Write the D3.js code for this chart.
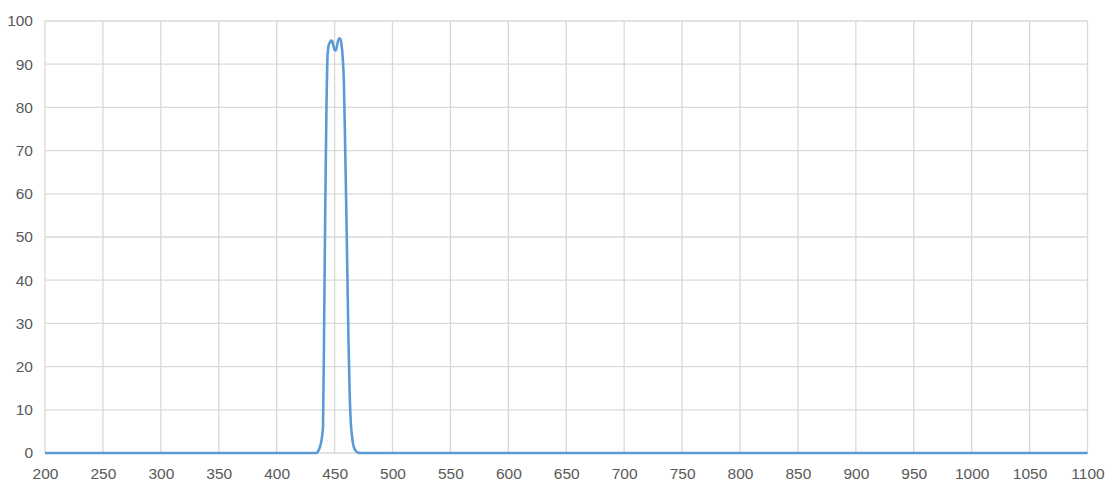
<!DOCTYPE html>
<html>
<head>
<meta charset="utf-8">
<script src="https://cdn.jsdelivr.net/npm/d3@7"></script>
<style>
  body { margin: 0; background: #fff; }
  .tick text { font-family: "Liberation Sans", Arial, sans-serif; font-size: 15.5px; fill: #595959; }
</style>
</head>
<body>
<div id="vis"></div>
<script>
const visWidth = 1111;
const visHeight = 494;

const margin = {
  top: 21,
  bottom: 41,
  left: 45,
  right: 23.5
};

const width = visWidth - margin.left - margin.right;
const height = visHeight - margin.top - margin.bottom;

// wavelength (nm)
const wavelength = [
  200, 250, 300, 350, 400, 420, 430, 434, 436, 438, 439, 440, 441, 442, 443, 444,
  445, 446, 447, 448, 449, 450, 451, 452, 453, 454, 455, 456, 457, 458, 459, 460,
  461, 462, 463, 464, 465, 466, 468, 470, 472, 480, 500, 550, 600, 650, 700, 750,
  800, 850, 900, 950, 1000, 1050, 1100
];

// transmission (%)
const transmission = [
  0, 0, 0, 0, 0, 0, 0, 0, 0.5, 2, 3.5, 6, 30, 58, 80, 92.5,
  94.5, 95, 95.5, 95.3, 94.2, 93.3, 93.2, 94.2, 95.4, 96, 95.8, 94.5, 91.5, 86, 73, 58,
  42, 26, 14, 7, 4, 2, 0.6, 0.1, 0, 0, 0, 0, 0, 0, 0, 0,
  0, 0, 0, 0, 0, 0, 0
];

const xTicks = d3.range(200, 1101, 50);
const yTicks = d3.range(0, 101, 10);

const svg = d3.select('#vis').append('svg')
    .attr('width', visWidth)
    .attr('height', visHeight)
  .append('g')
    .attr('transform', `translate(${margin.left}, ${margin.top})`);

const x = d3.scaleLinear()
    .domain([200, 1100])
    .range([0, width]);

const y = d3.scaleLinear()
    .domain([0, 100])
    .range([height, 0]);

// gridlines
svg.append('g')
    .selectAll('line')
    .data(yTicks)
    .join('line')
      .attr('x1', 0)
      .attr('x2', width)
      .attr('y1', d => y(d))
      .attr('y2', d => y(d))
      .attr('stroke', '#d9d9d9')
      .attr('stroke-width', 1.3);

svg.append('g')
    .selectAll('line')
    .data(xTicks)
    .join('line')
      .attr('x1', d => x(d))
      .attr('x2', d => x(d))
      .attr('y1', 0)
      .attr('y2', height)
      .attr('stroke', '#d9d9d9')
      .attr('stroke-width', 1.3);

// axes (labels only)
svg.append('g')
    .call(d3.axisLeft(y).tickValues(yTicks).tickFormat(d3.format('d')).tickSize(0).tickPadding(12))
    .call(g => g.select('.domain').remove());

svg.append('g')
    .attr('transform', `translate(0, ${height})`)
    .call(d3.axisBottom(x).tickValues(xTicks).tickFormat(d3.format('d')).tickSize(0).tickPadding(15))
    .call(g => g.select('.domain').remove());

const data = wavelength.map((w, i) => ({w: w, t: transmission[i]}));

const line = d3.line()
    .x(d => x(d.w))
    .y(d => y(d.t))
    .curve(d3.curveMonotoneX);

svg.append('path')
    .datum(data)
    .attr('d', line)
    .attr('fill', 'none')
    .attr('stroke', '#5b9bd5')
    .attr('stroke-width', 2.6)
    .attr('stroke-linejoin', 'round');
</script>
</body>
</html>
